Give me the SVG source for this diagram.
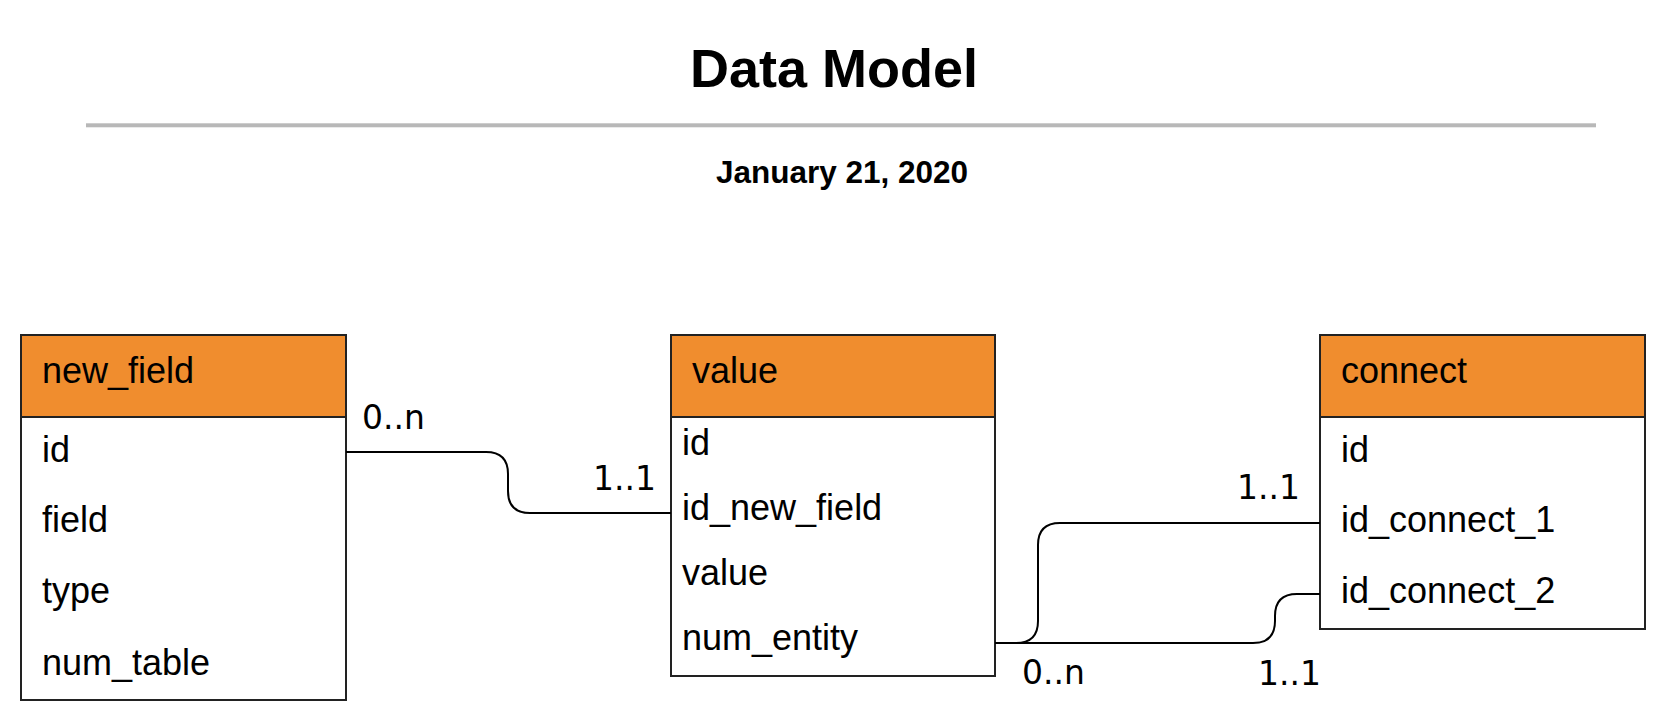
<svg xmlns="http://www.w3.org/2000/svg" width="1679" height="722" viewBox="0 0 1679 722">
<style>
.hdr{fill:#f08d2e;stroke:#222;stroke-width:2}
.body{fill:#fff;stroke:#222;stroke-width:2}
.t{font-family:"Liberation Sans",Arial,sans-serif;font-size:36px;fill:#000}
.lbl{font-family:"DejaVu Sans",sans-serif;font-size:33px;fill:#000}
.conn{fill:none;stroke:#000;stroke-width:2}
</style>
<rect width="1679" height="722" fill="#fff"/>
<g id="title">
<text x="834" y="87" text-anchor="middle" font-family="Liberation Sans, Arial, sans-serif" font-weight="bold" font-size="54">Data Model</text>
<rect x="86" y="123.3" width="1510" height="4" fill="#b8b8b8"/>
<text x="842" y="183" text-anchor="middle" font-family="Liberation Sans, Arial, sans-serif" font-weight="bold" font-size="31.5">January 21, 2020</text>
</g>
<g id="new_field">
<rect class="body" x="21" y="335" width="325" height="365"/>
<rect class="hdr" x="21" y="335" width="325" height="82"/>
<text class="t" x="42" y="383">new_field</text>
<text class="t" x="42" y="462">id</text>
<text class="t" x="42" y="532">field</text>
<text class="t" x="42" y="603">type</text>
<text class="t" x="42" y="675">num_table</text>
</g>
<g id="value">
<rect class="body" x="671" y="335" width="324" height="341"/>
<rect class="hdr" x="671" y="335" width="324" height="82"/>
<text class="t" x="692" y="383">value</text>
<text class="t" x="682" y="455">id</text>
<text class="t" x="682" y="520">id_new_field</text>
<text class="t" x="682" y="585">value</text>
<text class="t" x="682" y="650">num_entity</text>
</g>
<g id="connect">
<rect class="body" x="1320" y="335" width="325" height="294"/>
<rect class="hdr" x="1320" y="335" width="325" height="82"/>
<text class="t" x="1341" y="383">connect</text>
<text class="t" x="1341" y="462">id</text>
<text class="t" x="1341" y="532">id_connect_1</text>
<text class="t" x="1341" y="603">id_connect_2</text>
</g>
<g id="connectors">
<path class="conn" d="M346,452 H486 Q508,452 508,474 V491 Q508,513 530,513 H671"/>
<path class="conn" d="M995,643 H1016 Q1038,643 1038,621 V545 Q1038,523 1060,523 H1320"/>
<path class="conn" d="M995,643 H1253 Q1275,643 1275,621 V616 Q1275,594 1297,594 H1320"/>
<text class="lbl" x="362" y="429">0..n</text>
<text class="lbl" x="593" y="490">1..1</text>
<text class="lbl" x="1237" y="499">1..1</text>
<text class="lbl" x="1022" y="684">0..n</text>
<text class="lbl" x="1258" y="685">1..1</text>
</g>
</svg>
